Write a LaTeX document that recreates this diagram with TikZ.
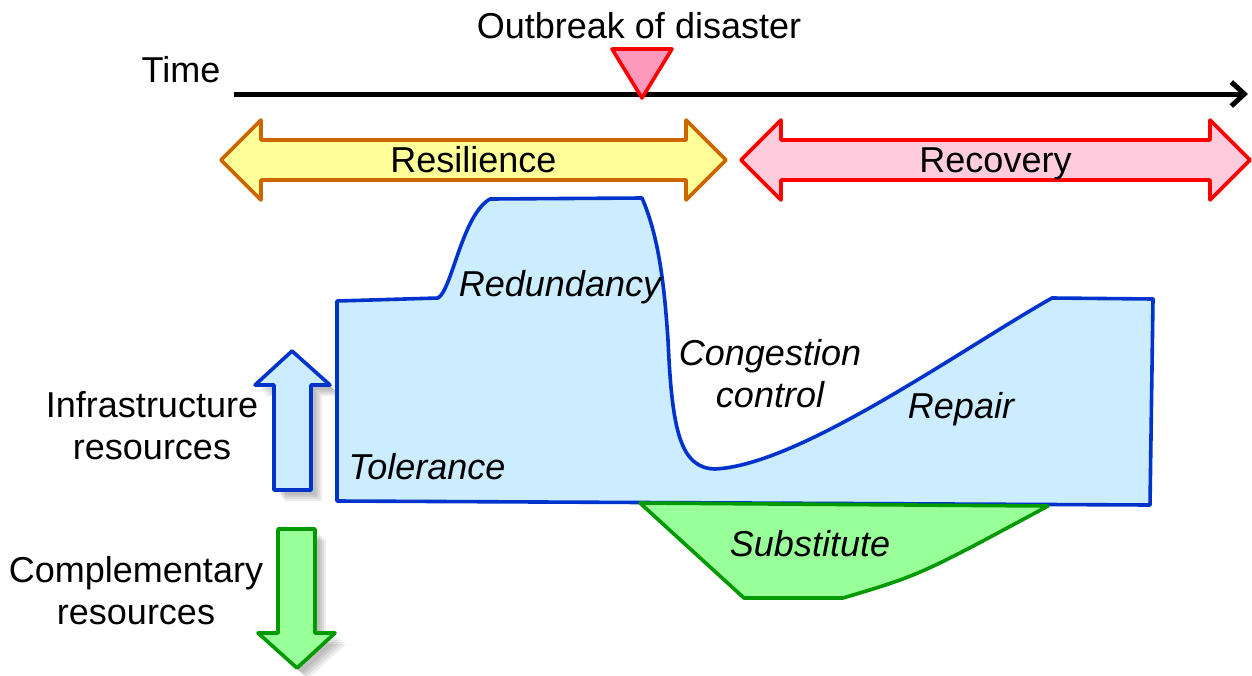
\documentclass[tikz,border=0pt]{standalone}
\usepackage{fontspec}
\setmainfont{Liberation Sans}
\usetikzlibrary{arrows.meta}
\definecolor{dk-blue}{RGB}{0,51,204}
\definecolor{lt-blue}{RGB}{204,236,255}
\definecolor{dk-green}{RGB}{0,153,0}
\definecolor{lt-green}{RGB}{153,255,153}
\definecolor{lt-yellow}{RGB}{255,255,153}
\definecolor{dk-orange}{RGB}{204,102,0}
\definecolor{lt-pink}{RGB}{255,204,221}
\definecolor{md-pink}{RGB}{255,153,187}
\tikzset{
	lbl/.style={font=\fontsize{36}{42}\selectfont, anchor=base, inner sep=0pt},
	ital/.style={lbl, font=\fontsize{36}{42}\selectfont\itshape},
	outline/.style={line width=3.6pt, line join=round}
}
%double arrow between #1 and #2, fill #3, border #4, label #6 named #5
\newcommand{\Span}[6]{
	\draw[outline, #4, fill=#3] (#1,160) -- (#1+40,120) -- (#1+40,140) -- (#2-40,140) -- (#2-40,120) -- (#2,160)
		-- (#2-40,200) -- (#2-40,180) -- (#1+40,180) -- (#1+40,200) -- cycle;
	\node[lbl] (#5) at ({(#1+#2)/2},172) {#6};
}
%fat arrows on the left
\newcommand{\UpPath}{(292,351) -- (330,385) -- (311,385) -- (311,490) -- (274,490) -- (274,385) -- (255,385) -- cycle}
\newcommand{\DownPath}{(278,529) -- (315,529) -- (315,633) -- (335,633) -- (297,668) -- (258,633) -- (278,633) -- cycle}

\begin{document}
\begin{tikzpicture}[x=1pt,y=-1pt]
	\useasboundingbox (0,0) rectangle (1252,675);

	%time axis
	\coordinate (t0) at (234,94);
	\coordinate (t1) at (1248,94);
	\draw[line width=5pt, -{Straight Barb[length=13pt,width=24pt]}] (t0) -- (t1);
	\node[lbl] (time) at (181,82) {Time};
	\node[lbl] (outbreak) at (639,38) {Outbreak of disaster};
	\draw[outline, red, fill=md-pink] (612,49) -- (672,49) -- (642,98) -- cycle;

	%phases
	\Span{221}{726}{lt-yellow}{dk-orange}{resil}{Resilience}
	\Span{741}{1250}{lt-pink}{red}{recov}{Recovery}

	%shadows
	\foreach \s in {5,7,9,11}{
		\fill[black, opacity=0.07, shift={(\s,\s)}] \UpPath;
		\fill[black, opacity=0.07, shift={(\s,\s)}] \DownPath;
	}
	\draw[outline, dk-blue, fill=lt-blue] \UpPath;
	\draw[outline, dk-green, fill=lt-green] \DownPath;

	%infrastructure resources
	\draw[outline, dk-blue, fill=lt-blue] (337,301) -- (438,298)
		.. controls (452,290) and (462,215) .. (490,199) -- (642,198)
		.. controls (658,235) and (664,280) .. (668,340)
		.. controls (672,430) and (680,468) .. (715,469)
		.. controls (800,465) and (960,350) .. (1052,298)
		-- (1153,299) -- (1150,505) -- (337,501) -- cycle;
	%complementary resources
	\draw[outline, dk-green, fill=lt-green] (640,503) -- (744,598) -- (843,598)
		.. controls (920,575) .. (1048,506) -- cycle;

	%labels
	\node[ital] (redund) at (560,296) {Redundancy};
	\node[ital, align=center] (congest) at (770,407) {Congestion\\control};
	\node[ital] (repair) at (961,418) {Repair};
	\node[ital] (toler) at (427,479) {Tolerance};
	\node[ital] (subst) at (810,556) {Substitute};
	\node[lbl, align=center] (infra) at (152,459) {Infrastructure\\resources};
	\node[lbl, align=center] (compl) at (136,624) {Complementary\\resources};
\end{tikzpicture}
\end{document}
